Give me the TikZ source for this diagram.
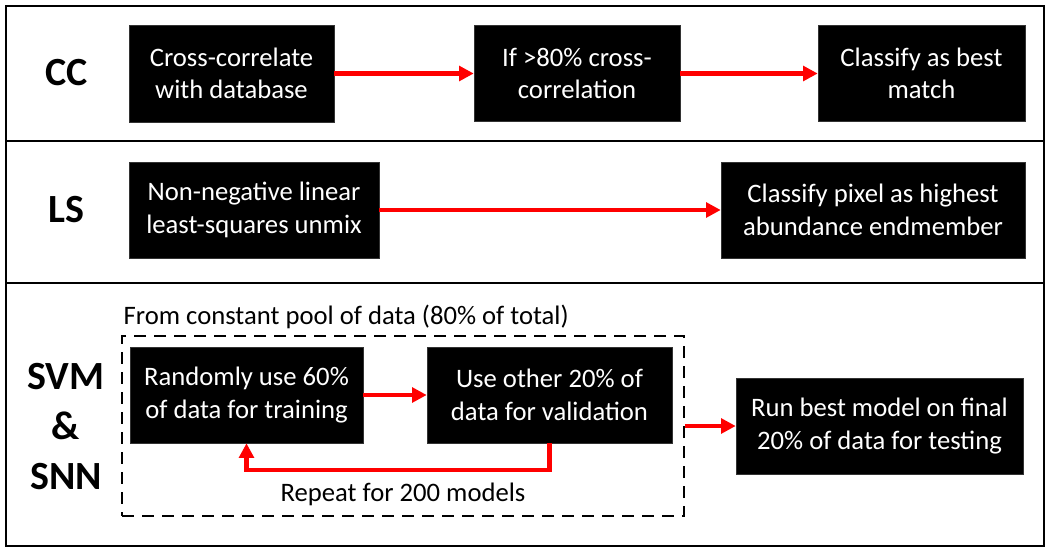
\documentclass[tikz,border=0pt]{standalone}
\usepackage{fontspec}
\setmainfont{Carlito}
\usetikzlibrary{arrows.meta}
\begin{document}
\begin{tikzpicture}[x=0.75pt,y=-0.75pt,
  box/.style 2 args={fill=black, draw=black!80, text=white, align=center, inner sep=0pt,
    minimum width=#1*0.75pt, minimum height=#2*0.75pt, font=\fontsize{20}{24.5}\selectfont},
  lbl/.style={font=\fontsize{30}{37.5}\selectfont\bfseries, align=center},
  note/.style={font=\fontsize{20}{24}\selectfont},
  frame/.style={draw=black, line width=2pt},
  arr/.style={draw=red, line width=3.3pt, -{Triangle[length=11pt,width=11pt]}},
]
\useasboundingbox (0,0) rectangle (1050,554);
% frames
\draw[frame] (6,6) rectangle (1044,141);
\draw[frame] (6,141) rectangle (1044,283);
\draw[frame] (6,283) rectangle (1044,546);
% labels
\node[lbl] (lcc) at (67,73) {CC};
\node[lbl] (lls) at (66,210) {LS};
\node[lbl] (lsvm) at (66,427) {SVM\\\&\\SNN};
% CC row
\node[box={205}{97}] (cc1) at (231.5,73.5) {Cross-correlate\\with database};
\node[box={206}{96}] (cc2) at (577,73.5) {If >80\% cross-\\correlation};
\node[box={207}{96}] (cc3) at (921.5,73.5) {Classify as best\\match};
\draw[arr] (cc1.east) -- (cc2.west);
\draw[arr] (cc2.east) -- (cc3.west);
% LS row
\node[box={250}{96}] (ls1) at (254,210) {Non-negative linear\\least-squares unmix};
\node[box={304}{96}] (ls2) at (873,210) {Classify pixel as highest\\abundance endmember};
\draw[arr] (ls1.east) -- (ls2.west);
% SVM row
\node[draw=black, line width=2.2pt, dash pattern=on 9pt off 6pt, minimum width=562*0.75pt, minimum height=180*0.75pt, inner sep=0pt] (pool) at (403,426) {};
\node[note, anchor=west] (pooltxt) at (119,317) {From constant pool of data (80\% of total)};
\node[box={233}{96}] (s1) at (246.5,395) {Randomly use 60\%\\of data for training};
\node[box={245}{96}] (s2) at (549.5,395) {Use other 20\% of\\data for validation};
\node[box={287}{96}] (s3) at (879.5,426) {Run best model on final\\20\% of data for testing};
\node[note] (rep) at (403,494) {Repeat for 200 models};
\draw[arr] (s1.east) -- (s2.west);
\draw[arr] (s2.south) -- ++(0,27) -| (s1.south);
\draw[arr] (pool.east |- s3.west) -- (s3.west);
\end{tikzpicture}
\end{document}
